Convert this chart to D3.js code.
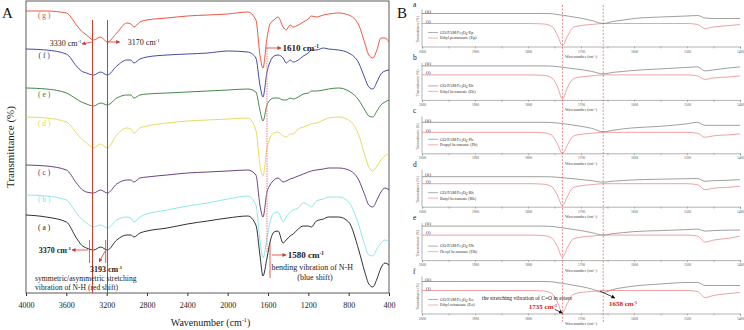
<!DOCTYPE html>
<html>
<head>
<meta charset="utf-8">
<script src="https://cdn.jsdelivr.net/npm/d3@7"></script>
<style>
  body { margin: 0; background: #fff; }
  text { font-family: "Liberation Serif", "Times New Roman", serif; }
</style>
</head>
<body>
<svg id="chart" width="744" height="330" font-family="Liberation Serif"></svg>
<script>
// ---------- panel A data (wavenumber grid + transmittance, a.u.) ----------
const waveA = [4000, 3800, 3600, 3500, 3450, 3400, 3330, 3260, 3193, 3100, 3000, 2960, 2930, 2870, 2800, 2600, 2400, 2200, 2000, 1800,
  1720, 1680, 1650, 1610, 1580, 1540, 1500, 1450, 1420, 1380, 1350, 1300, 1250, 1200, 1170, 1120, 1050, 1000, 900, 800,
  700, 640, 600, 560, 520, 480, 440, 400];

const specA_a = [78,76,71,55,48,45,43,46,43,53,58,58,56,60,62,65,69,72,75,77,68,38,17,35,51,61,62,50,53,57,59,64,67,67,66,72,74,76,76,71,43,21,9,6,14,25,30,28];
const specA_b = [98,97,93,80,74,70,66,68,65,73,76,75,71,76,79,83,87,90,94,97,88,53,35,55,71,80,81,71,76,81,83,85,90,88,86,92,94,96,96,91,68,48,38,37,44,50,53,51];
const specA_c = [128,127,123,110,104,101,100,103,100,109,113,113,111,115,116,118,120,121,122,123,118,88,76,101,108,113,115,111,112,114,115,117,119,121,122,123,124,125,125,123,113,98,88,86,93,101,105,103];
const specA_d = [176,175,171,160,154,150,145,149,145,158,165,164,160,165,167,170,172,173,174,175,163,128,117,145,155,160,161,157,156,159,159,164,166,168,169,170,173,175,176,173,158,138,126,122,127,133,137,140];
const specA_e = [205,204,200,194,191,189,187,190,188,195,198,198,195,198,199,200,201,202,203,204,201,183,172,188,193,195,195,193,193,195,194,196,199,200,202,202,203,204,205,202,193,183,177,176,182,188,191,193];
const specA_f = [244,243,239,227,222,220,218,221,218,227,233,233,230,234,236,238,239,240,242,241,235,208,196,221,231,237,238,235,230,233,231,233,237,240,243,243,245,244,243,240,230,215,206,204,211,219,222,223];
const specA_g = [282,282,280,268,262,258,253,256,251,260,270,269,266,271,273,275,277,278,279,281,273,238,225,255,269,273,276,266,263,268,266,268,271,274,277,276,278,279,280,278,268,250,238,235,243,255,255,251];

const namesA = ["a", "b", "c", "d", "e", "f", "g"];
const labelTA = [63, 91, 118, 167, 196, 235, 275];
const ticksA = [4000, 3600, 3200, 2800, 2400, 2000, 1600, 1200, 800, 400];

// ---------- panel B data ----------
const waveB = [2000, 1900, 1800, 1770, 1755, 1745, 1735, 1725, 1715, 1700, 1680, 1658, 1640, 1620, 1600, 1550, 1500, 1480, 1466, 1450, 1420, 1400];

const compB_a = [33,33,33,33,32.8,32,31.3,30.5,29.6,28.3,26,23,25,26.5,28,29.5,30.5,31,28.5,28,28,28];
const esterB_a = [23,23,23,22.5,20,12,1,11,19,21,22,23,23,23,23,23,23,22,18,19.5,21,22];
const compB_b = [34,34,34,34,33.8,33.3,32.7,32,31.3,30.3,28.5,26,27.5,28.5,29.5,31,32.5,33,29,30,32,33];
const esterB_b = [25,25,25,24.5,22,14,1,13,21,23,24,25,25,25,25,25,25,24,20.5,22,23,24];
const compB_c = [31,31,31,31,30.8,30.3,29.7,29,28.2,27,25,21.5,23,24.5,25.5,27,29.5,31,28,28,28,28];
const esterB_c = [21,21,21,20.5,18,10,0,9,17,19,20,21,21,21,21,21,21,20,16,17.5,18.5,19.5];
const compB_d = [30,30,30,30,29.8,29.5,29,28.5,28,27.2,26,24.5,25.5,26.2,26.8,27.5,28,28.2,25.5,26,26.5,27];
const esterB_d = [23,23,23,22.5,20,12,1,11,19,21,22,23,23,23,23,23,23,22,17,18.5,19.5,20.5];
const compB_e = [34,34,34,34,33.7,33,32.3,31.5,30.7,29.5,27.5,25,26.5,27.5,28.5,29.5,30.5,31,29,29.5,30,30];
const esterB_e = [25,25,25,24.5,22,14,3,13,21,23,24,25,25,25,25,25,25,24,18,20,22,24];
const compB_f = [32,32,32,32,31.7,31,30.2,29.3,28.3,27,24.5,21,24,26,27.5,29.5,31,31,28,28,28,28];
const esterB_f = [23,23,23,22.5,20,12,1,11,19,21,22,23,23,23,23,23,23,22,16,18,20,21];

const lettersB = ["a", "b", "c", "d", "e", "f"];
const suffixB = ["Ep", "Eh", "Ph", "Bh", "Hh", "Eo"];
const estersB = ["Ethyl pentanoate (Ep)", "Ethyl hexanoate (Eh)", "Propyl hexanoate (Ph)", "Butyl hexanoate (Bh)", "Hexyl hexanoate (Hh)", "Ethyl octanoate (Eo)"];
const markB = [1735, 1658];

// ---------- setup ----------
const svg = d3.select("#chart");
const serif = "Liberation Serif";
const coloursA = ["#1a1a1a", "#7fe3ea", "#5a2e72", "#e6d650", "#2f7a34", "#2c3796", "#e5442e"];
const red = "#d23a2e";

const defs = svg.append("defs");
function marker(id, col) {
  defs.append("marker").attr("id", id).attr("viewBox", "0 0 6 6")
    .attr("refX", 5.5).attr("refY", 3).attr("markerWidth", 4).attr("markerHeight", 4)
    .attr("markerUnits", "userSpaceOnUse").attr("orient", "auto")
    .append("path").attr("d", "M0,0L6,3L0,6Z").attr("fill", col);
}
marker("arrRed", red);
marker("arrBlack", "#111");

// text with cm-1 superscript
function cmText(g, x, y, num, size, col, weight, anchor) {
  const t = g.append("text").attr("x", x).attr("y", y).attr("font-size", size)
    .attr("fill", col).attr("font-weight", weight || "normal").attr("text-anchor", anchor || "start");
  t.append("tspan").text(num + " cm");
  t.append("tspan").attr("dy", -size * 0.35).attr("font-size", size * 0.6).text("-1");
  return t;
}

// ---------- panel A ----------
const xA = d3.scaleLinear().domain([4000, 400]).range([26, 389]);
const yA = d3.scaleLinear().domain([0, 292]).range([293, 1]);
const gA = svg.append("g");

gA.append("rect").attr("x", xA(4000)).attr("y", yA(292)).attr("width", xA(400) - xA(4000))
  .attr("height", yA(0) - yA(292)).attr("fill", "none").attr("stroke", "#333").attr("stroke-width", 0.8);

const axA = gA.append("g").attr("transform", `translate(0,${yA(0)})`)
  .call(d3.axisBottom(xA).tickValues(ticksA).tickFormat(d3.format("d")).tickSize(3).tickPadding(6).tickSizeOuter(0))
  .attr("font-family", serif).attr("font-size", 8);
axA.select(".domain").remove();
axA.selectAll("line").attr("stroke", "#333");
axA.selectAll("text").attr("fill", "#222");

const xl = gA.append("text").attr("x", (xA(4000) + xA(400)) / 2 + 3).attr("y", 326).attr("text-anchor", "middle")
  .attr("font-size", 10).attr("fill", "#222");
xl.append("tspan").text("Wavenumber (cm");
xl.append("tspan").attr("dy", -4).attr("font-size", 6).text("-1");
xl.append("tspan").attr("dy", 4).text(")");

gA.append("text").attr("transform", `translate(14,${(yA(0) + yA(292)) / 2}) rotate(-90)`)
  .attr("text-anchor", "middle").attr("font-size", 11).attr("fill", "#222").text("Transmittance (%)");

gA.append("text").attr("x", 2).attr("y", 18).attr("font-size", 15).attr("fill", "#111").text("A");

// spectra
const specA = [specA_a, specA_b, specA_c, specA_d, specA_e, specA_f, specA_g];
const lineA = d3.line().x(d => xA(d[0])).y(d => yA(d[1])).curve(d3.curveMonotoneX);
gA.selectAll(".specA").data(specA).enter().append("path").attr("class", "specA")
  .attr("d", s => lineA(waveA.map((w, i) => [w, s[i]])))
  .attr("fill", "none").attr("stroke", (s, i) => coloursA[i]).attr("stroke-width", 0.9);

gA.selectAll(".labA").data(namesA).enter().append("text").attr("class", "labA")
  .attr("x", xA(3820)).attr("y", (d, i) => yA(labelTA[i])).attr("text-anchor", "middle")
  .attr("font-size", 7.5).attr("fill", (d, i) => coloursA[i]).text(d => "( " + d + " )");

// annotation lines
function vline(g, x1, y1, y2, col, dash, w) {
  g.append("line").attr("x1", x1).attr("x2", x1).attr("y1", y1).attr("y2", y2)
    .attr("stroke", col).attr("stroke-width", w || 0.8).attr("stroke-dasharray", dash || null);
}
function arrow(g, x1, y1, x2, y2, col, m) {
  g.append("line").attr("x1", x1).attr("y1", y1).attr("x2", x2).attr("y2", y2)
    .attr("stroke", col).attr("stroke-width", 0.8).attr("marker-end", `url(#${m})`);
}
const gLines = gA.append("g").attr("shape-rendering", "crispEdges");
vline(gLines, xA(3345), yA(273), yA(0), "#c8402f", null, 1);
vline(gLines, xA(3190), yA(273), yA(0), "#c8402f", null, 1);
vline(gA, xA(3370), yA(53), yA(30), red);
vline(gA, xA(3210), yA(53), yA(30), red);
vline(gA, xA(1610), yA(245), yA(40), "#e88080", "1.5,1", 1);
vline(gA, xA(1580), yA(50), yA(15), red);

arrow(gA, xA(3345), yA(251), xA(3445), yA(249), red, "arrRed");
cmText(gA, xA(3450), yA(247), "3330", 8, "#222", "normal", "end");
arrow(gA, xA(3192), yA(251), xA(3070), yA(251), red, "arrRed");
cmText(gA, xA(2990), yA(248), "3170", 8, "#222");
arrow(gA, xA(1620), yA(245), xA(1470), yA(245), red, "arrRed");
cmText(gA, xA(1455), yA(242), "1610", 9, "#222", "bold");
arrow(gA, xA(1560), yA(38), xA(1420), yA(38), red, "arrRed");
cmText(gA, xA(1405), yA(35), "1580", 9, "#222", "bold");
gA.append("text").attr("x", xA(1565)).attr("y", yA(23)).attr("font-size", 8).attr("fill", "#222").text("bending vibration of N-H");
gA.append("text").attr("x", xA(1135)).attr("y", yA(13)).attr("font-size", 8).attr("fill", "#222")
  .attr("text-anchor", "middle").text("(blue shift)");
arrow(gA, xA(3385), yA(43), xA(3545), yA(43), red, "arrRed");
cmText(gA, xA(3555), yA(40), "3370", 8, "#222", "bold", "end");
arrow(gA, xA(3215), yA(42), xA(3275), yA(31), red, "arrRed");
cmText(gA, xA(3365), yA(21), "3193", 8, "#222", "bold");
gA.append("text").attr("x", xA(3910)).attr("y", yA(12)).attr("font-size", 7.6).attr("fill", "#222").text("symmetric/asymmetric stretching");
gA.append("text").attr("x", xA(3910)).attr("y", yA(3)).attr("font-size", 7.6).attr("fill", "#222").text("vibration of N-H (red shift)");

// ---------- panel B ----------
const xB = d3.scaleLinear().domain([2000, 1400]).range([422, 740]);
const gB = svg.append("g");
gB.append("text").attr("x", 397).attr("y", 18).attr("font-size", 15).attr("fill", "#111").text("B");

const compB = [compB_a, compB_b, compB_c, compB_d, compB_e, compB_f];
const esterB = [esterB_a, esterB_b, esterB_c, esterB_d, esterB_e, esterB_f];
const grayCol = "#5f5f5f", redCol = "#e06464";

lettersB.forEach((letter, k) => {
  const base = 46.5 + k * 53.4;
  const yB = d3.scaleLinear().domain([0, 40]).range([base, base - 40]);
  const g = gB.append("g");
  const lineB = d3.line().x(d => xB(d[0])).y(d => yB(d[1])).curve(d3.curveMonotoneX);

  // axes
  const ax = g.append("g").attr("transform", `translate(0,${base})`)
    .call(d3.axisBottom(xB).tickValues(d3.range(2000, 1399, -50)).tickSize(2).tickPadding(1.5)
      .tickFormat(d => d % 100 === 0 ? d : ""))
    .attr("font-family", serif).attr("font-size", 3.6);
  ax.select(".domain").attr("stroke", "#666").attr("stroke-width", 0.5);
  ax.selectAll("line").attr("stroke", "#666").attr("stroke-width", 0.4);
  ax.selectAll("text").attr("fill", "#555");
  g.append("line").attr("x1", xB(2000)).attr("x2", xB(2000)).attr("y1", base).attr("y2", yB(37))
    .attr("stroke", "#666").attr("stroke-width", 0.5);
  g.append("text").attr("x", 581).attr("y", base + 11.5).attr("text-anchor", "middle")
    .attr("font-size", 4).attr("fill", "#444").text("Wavenumber (cm⁻¹)");
  g.append("text").attr("transform", `translate(419,${base - 17}) rotate(-90)`).attr("text-anchor", "middle")
    .attr("font-size", 3.6).attr("fill", "#555").text("Transmittance (%)");

  g.append("text").attr("x", 413).attr("y", yB(40)).attr("font-size", 7.5).attr("fill", "#222").text(letter);

  // spectra
  g.append("path").attr("d", lineB(waveB.map((w, i) => [w, compB[k][i]])))
    .attr("fill", "none").attr("stroke", grayCol).attr("stroke-width", 0.6);
  g.append("path").attr("d", lineB(waveB.map((w, i) => [w, esterB[k][i]])))
    .attr("fill", "none").attr("stroke", redCol).attr("stroke-width", 0.6);
  g.append("text").attr("x", 425).attr("y", yB(compB[k][0]) - 0.8).attr("font-size", 5).attr("fill", "#333").text("(ii)");
  g.append("text").attr("x", 426).attr("y", yB(esterB[k][0]) - 0.8).attr("font-size", 5).attr("fill", "#333").text("(i)");

  // legend
  const ly1 = base - 14, ly2 = base - 8.5;
  g.append("line").attr("x1", 428).attr("x2", 438).attr("y1", ly1).attr("y2", ly1).attr("stroke", grayCol).attr("stroke-width", 0.5);
  g.append("line").attr("x1", 428).attr("x2", 438).attr("y1", ly2).attr("y2", ly2).attr("stroke", redCol).attr("stroke-width", 0.5);
  const t1 = g.append("text").attr("x", 440).attr("y", ly1 + 1.3).attr("font-size", 4.2).attr("fill", "#333");
  t1.append("tspan").text("GO/PAM/Fe");
  t1.append("tspan").attr("dy", 1).attr("font-size", 3).text("3");
  t1.append("tspan").attr("dy", -1).text("O");
  t1.append("tspan").attr("dy", 1).attr("font-size", 3).text("4");
  t1.append("tspan").attr("dy", -1).text("-" + suffixB[k]);
  g.append("text").attr("x", 440).attr("y", ly2 + 1.3).attr("font-size", 4.2).attr("fill", "#333").text(estersB[k]);
});

// dashed markers across panel B
markB.forEach(w => {
  gB.append("line").attr("x1", xB(w)).attr("x2", xB(w)).attr("y1", 5).attr("y2", 322)
    .attr("stroke", "#d84848").attr("stroke-width", 0.6).attr("stroke-dasharray", "2,1.5");
});

// annotation in f
gB.append("text").attr("x", 572).attr("y", 300).attr("text-anchor", "end").attr("font-size", 5.6)
  .attr("fill", "#222").text("the stretching vibration of C=O in esters");
cmText(gB, 557, 309, "1735", 7, "#d42020", "bold", "end");
arrow(gB, 555, 309.5, xB(1735), 313, "#111", "arrBlack");
arrow(gB, 600, 291, 615, 298, "#111", "arrBlack");
cmText(gB, 609, 306, "1658", 7, "#d42020", "bold");
</script>
</body>
</html>
